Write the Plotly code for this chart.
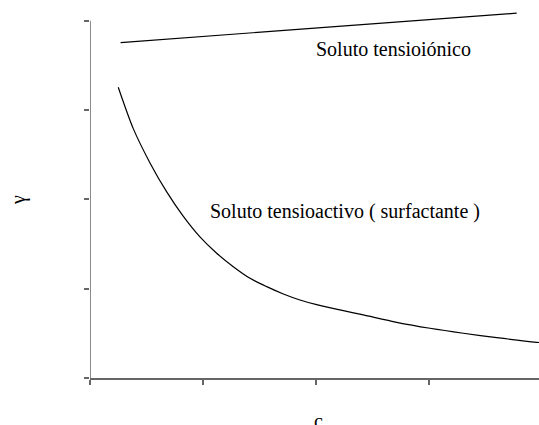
import plotly.graph_objects as go

# Data
ionic_x = [0.271, 3.776]
ionic_y = [3.757, 4.086]

active_x = [0.250, 0.383, 0.531, 0.679, 0.823, 0.973, 1.121, 1.268, 1.416, 1.564,
            1.711, 1.858, 2.006, 2.212, 2.419, 2.714, 3.009, 3.304, 3.599, 3.953, 4.05]
active_y = [3.257, 2.793, 2.409, 2.084, 1.815, 1.580, 1.397, 1.247, 1.117, 1.023,
            0.941, 0.874, 0.821, 0.762, 0.706, 0.624, 0.557, 0.501, 0.452, 0.400, 0.39]

x_ticks = [0, 1, 2, 3]
y_ticks = [0, 1, 2, 3, 4]

label_ionic = "Soluto tensioiónico"
label_active = "Soluto tensioactivo ( surfactante )"
x_title = "c"
y_title = "γ"

font = "'Liberation Serif', 'DejaVu Serif', serif"
axis_color = "#666666"

fig = go.Figure()
fig.add_trace(go.Scatter(x=ionic_x, y=ionic_y, mode="lines",
                         line=dict(color="black", width=1.2), showlegend=False))
fig.add_trace(go.Scatter(x=active_x, y=active_y, mode="lines", line_shape="spline",
                         line=dict(color="black", width=1.2, smoothing=0.8),
                         showlegend=False))

fig.add_shape(type="line", xref="x", yref="y", x0=0, x1=0, y0=0, y1=4,
              line=dict(color=axis_color, width=1.5))

fig.add_annotation(x=(393 - 90) / 113, y=(378 - 49) / 89.25, xref="x", yref="y",
                   text=label_ionic, showarrow=False, xanchor="center", yanchor="middle",
                   font=dict(family=font, size=20, color="black"))
fig.add_annotation(x=(345 - 90) / 113, y=(378 - 212) / 89.25, xref="x", yref="y",
                   text=label_active, showarrow=False, xanchor="center", yanchor="middle",
                   font=dict(family=font, size=20, color="black"))
fig.add_annotation(x=-72 / 449, y=(378 - 200) / 375, xref="paper", yref="paper",
                   text=y_title, showarrow=False, textangle=-90,
                   xanchor="center", yanchor="middle",
                   font=dict(family=font, size=20, color="black"))
fig.add_annotation(x=(318 - 90) / 449, y=-(421 - 378) / 375, xref="paper", yref="paper",
                   text=x_title, showarrow=False, xanchor="center", yanchor="middle",
                   font=dict(family=font, size=20, color="black"))

fig.update_xaxes(range=[0, 449 / 113], tickvals=x_ticks, showticklabels=False,
                 ticks="outside", ticklen=5, tickcolor=axis_color, tickwidth=1.5,
                 showline=True, linecolor=axis_color, linewidth=1.5,
                 showgrid=False, zeroline=False)
fig.update_yaxes(range=[0, 4.2], tickvals=y_ticks, showticklabels=False,
                 ticks="outside", ticklen=5, tickcolor=axis_color, tickwidth=1.5,
                 showline=False, showgrid=False, zeroline=False)

fig.update_layout(width=539, height=425,
                  margin=dict(l=90, r=0, t=3, b=47),
                  paper_bgcolor="white", plot_bgcolor="white")

fig.write_html("out.html", config={"displayModeBar": False},
               post_script="document.body.style.margin='0';")
